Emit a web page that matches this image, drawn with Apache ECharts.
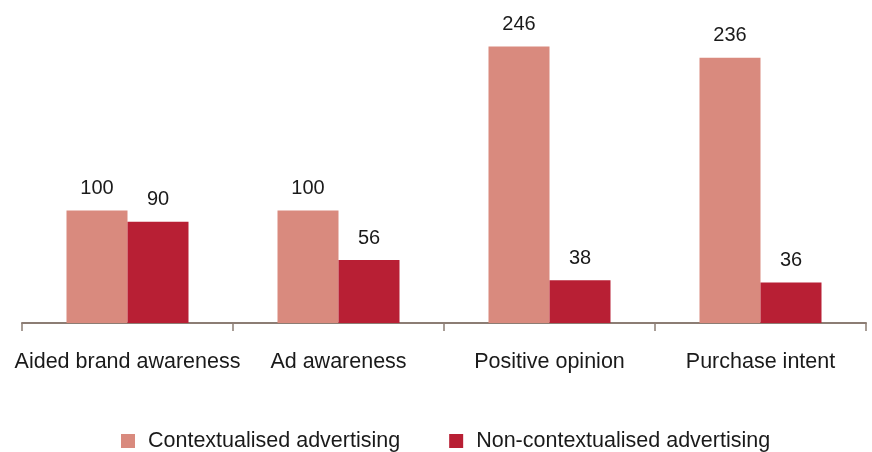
<!DOCTYPE html>
<html>
<head>
<meta charset="utf-8">
<script src="https://cdn.jsdelivr.net/npm/echarts@6/dist/echarts.min.js"></script>
<style>
html,body{margin:0;padding:0;background:#fff;}
#chart{width:872px;height:452px;}
</style>
</head>
<body>
<div id="chart"></div>
<script>
const categories = ["Aided brand awareness", "Ad awareness", "Positive opinion", "Purchase intent"];
const seriesNames = ["Contextualised advertising", "Non-contextualised advertising"];
const contextualised = [100, 100, 246, 236];
const nonContextualised = [90, 56, 38, 36];

const FONT = "'Liberation Sans', Helvetica, Arial, sans-serif";
const chart = echarts.init(document.getElementById('chart'), null, {renderer: 'canvas'});
const labelCfg = {
  show: true, position: 'top', distance: 12,
  color: '#1a1a1a', fontSize: 20, fontFamily: FONT
};
chart.setOption({
  animation: false,
  backgroundColor: '#ffffff',
  grid: {left: 22, right: 6, top: 42, bottom: 129},
  legend: {
    data: seriesNames,
    left: 116, top: 425,
    itemWidth: 14, itemHeight: 14, itemGap: 49,
    icon: 'rect',
    textStyle: {color: '#1a1a1a', fontSize: 21.5, fontFamily: FONT, padding: [0, 0, 0, 8]}
  },
  xAxis: {
    type: 'category',
    data: categories,
    axisLine: {lineStyle: {color: '#8c7d74', width: 2}},
    axisTick: {show: true, length: 8, lineStyle: {color: '#8c7d74', width: 1.5}},
    axisLabel: {color: '#1a1a1a', fontSize: 21.5, fontFamily: FONT, margin: 28, interval: 0}
  },
  yAxis: {
    type: 'value', min: 0, max: 250,
    show: false, splitLine: {show: false}
  },
  series: [
    {name: seriesNames[0], type: 'bar', data: contextualised, barWidth: 61, barGap: '0%',
     itemStyle: {color: '#d98a7e'}, label: labelCfg},
    {name: seriesNames[1], type: 'bar', data: nonContextualised, barWidth: 61, barGap: '0%',
     itemStyle: {color: '#b81f34'}, label: labelCfg}
  ]
});
</script>
</body>
</html>
